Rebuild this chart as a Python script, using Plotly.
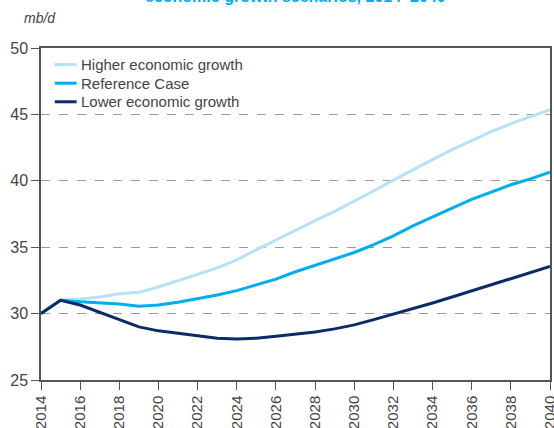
import plotly.graph_objects as go

years = list(range(2014, 2041))

higher_growth = [30.0, 31.0, 31.1, 31.25, 31.5, 31.6, 32.0, 32.45, 32.95, 33.45, 34.05,
                 34.8, 35.55, 36.3, 37.0, 37.7, 38.45, 39.25, 40.05, 40.85, 41.6,
                 42.35, 43.05, 43.7, 44.3, 44.85, 45.35]
reference_case = [30.0, 31.0, 30.9, 30.8, 30.72, 30.55, 30.65, 30.85, 31.1, 31.4, 31.73,
                  32.15, 32.6, 33.15, 33.65, 34.1, 34.6, 35.2, 35.85, 36.6, 37.3,
                  37.95, 38.6, 39.15, 39.7, 40.15, 40.65]
lower_growth = [30.0, 31.0, 30.65, 30.1, 29.6, 29.0, 28.7, 28.5, 28.3, 28.15, 28.08,
                28.15, 28.3, 28.45, 28.62, 28.85, 29.15, 29.55, 29.95, 30.35, 30.8,
                31.25, 31.7, 32.15, 32.6, 33.05, 33.55]

series = [
    ("Higher economic growth", higher_growth, "#b5e2f7"),
    ("Reference Case", reference_case, "#00aeef"),
    ("Lower economic growth", lower_growth, "#0b2c69"),
]

FONT = "Liberation Sans, Arial, sans-serif"

fig = go.Figure()
for name, vals, col in series:
    fig.add_trace(go.Scatter(x=years, y=vals, name=name, mode="lines",
                             line=dict(color=col, width=3), showlegend=False))

# hand-made legend so spacing matches the original
for i, (name, vals, col) in enumerate(series):
    ly = 0.95 - i * 0.056
    fig.add_shape(type="line", xref="paper", yref="paper", x0=0.027, x1=0.07, y0=ly, y1=ly,
                  line=dict(color=col, width=3))
    fig.add_annotation(text=name, xref="paper", yref="paper", x=0.074, y=ly,
                       xanchor="left", yanchor="middle", showarrow=False,
                       font=dict(size=15, color="#444", family=FONT))

fig.update_layout(
    width=554, height=428,
    paper_bgcolor="white", plot_bgcolor="white",
    margin=dict(l=41, r=4, t=48, b=48, autoexpand=False),
    font=dict(family=FONT, color="#444", size=14),
    showlegend=False,
)

fig.update_xaxes(range=[2014, 2040], tickmode="linear", tick0=2014, dtick=2,
                 tickangle=-90, ticks="outside", ticklen=8, tickcolor="#555",
                 showgrid=False, showline=True, linecolor="#555", linewidth=1.5,
                 mirror=True, tickfont=dict(size=15, color="#444"), zeroline=False,
                 automargin=False, ticklabeloverflow="allow")
fig.update_yaxes(range=[25, 50], tickmode="linear", tick0=25, dtick=5,
                 ticks="outside", ticklen=8, tickcolor="#555",
                 showgrid=True, gridcolor="#9a9a9a", griddash="dash", gridwidth=1,
                 showline=True, linecolor="#555", linewidth=1.5, mirror=True,
                 tickfont=dict(size=16, color="#444"), zeroline=False, automargin=False)

fig.add_annotation(text="<i>mb/d</i>", xref="paper", yref="paper", x=-0.037, y=1.06,
                   xanchor="left", yanchor="bottom", showarrow=False,
                   font=dict(size=14, color="#444", family=FONT))
fig.add_annotation(text="<b>economic growth scenarios, 2014–2040</b>", xref="paper", yref="paper",
                   x=0.5, y=1.124, xanchor="center", yanchor="bottom", showarrow=False,
                   font=dict(size=16, color="#00aeef", family=FONT))

fig.write_html("out.html", config={"displayModeBar": False},
               post_script="document.body.style.margin='0';")
